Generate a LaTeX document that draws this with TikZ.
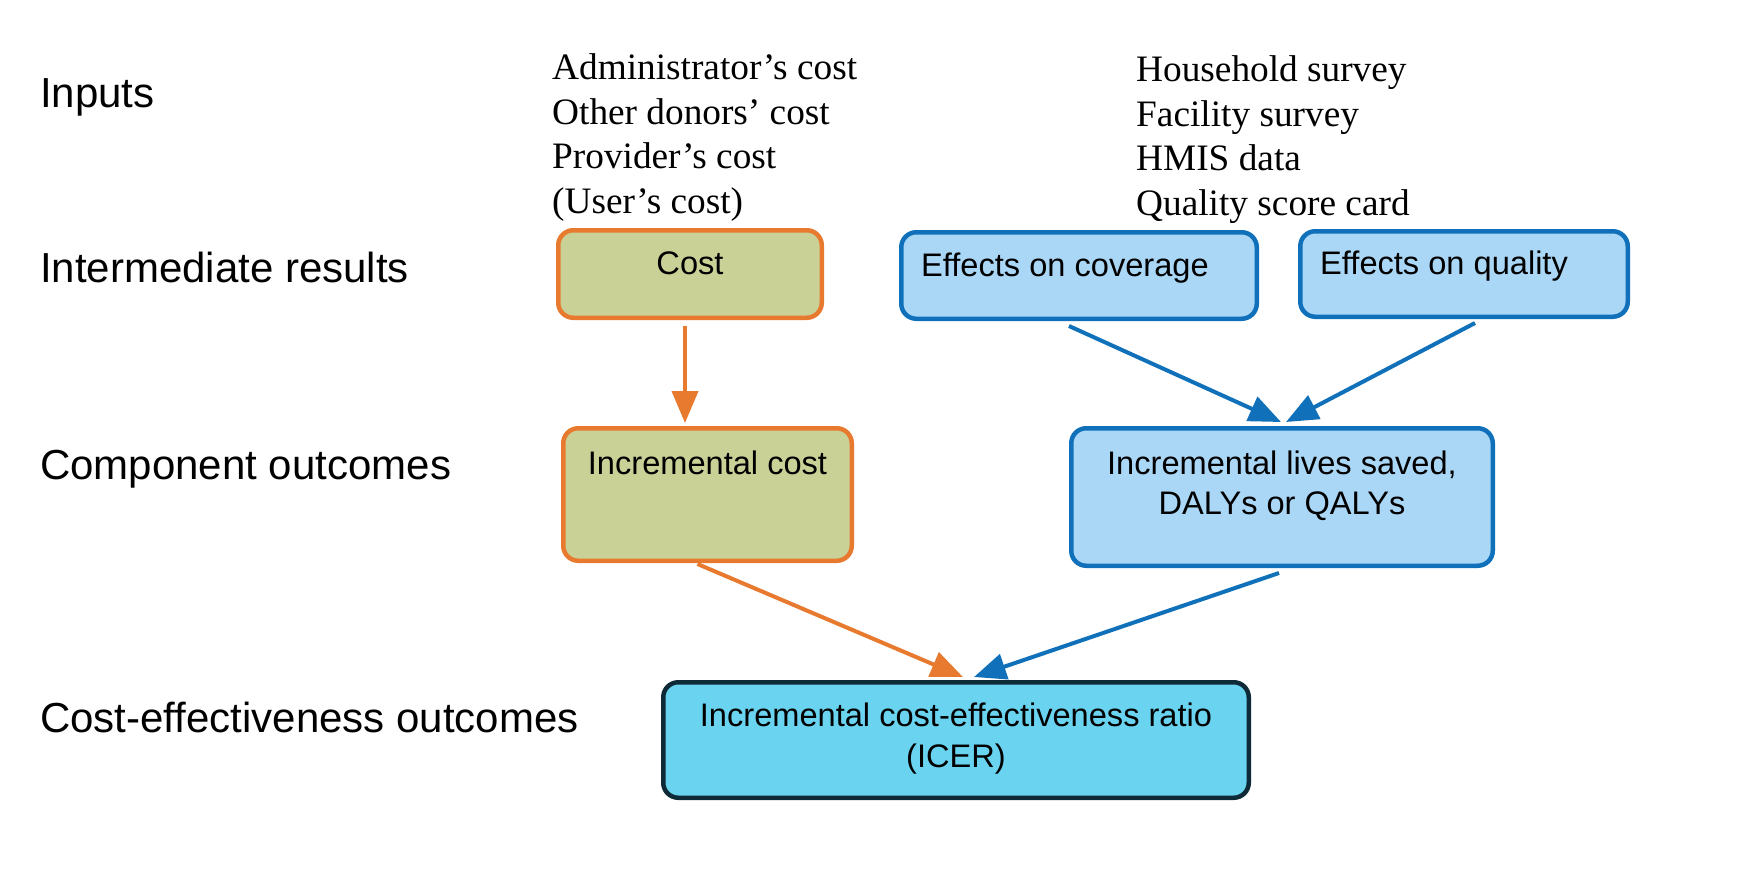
\documentclass[tikz,border=0pt]{standalone}
\usepackage{fontspec}
\setmainfont{Liberation Serif}
\setsansfont{Liberation Sans}
\usetikzlibrary{arrows.meta,calc}
\definecolor{odraw}{RGB}{232,122,48}
\definecolor{ofill}{RGB}{201,209,150}
\definecolor{bdraw}{RGB}{16,113,186}
\definecolor{bfill}{RGB}{171,215,247}
\definecolor{cfill}{RGB}{106,211,240}
\definecolor{cdraw}{RGB}{14,42,56}
\begin{document}
\begin{tikzpicture}[x=1pt,y=-1pt,
  boxbase/.style={rounded corners=15pt, line width=4.5pt, inner sep=0pt},
  obox/.style={boxbase, draw=odraw, fill=ofill},
  bbox/.style={boxbase, draw=bdraw, fill=bfill},
  cbox/.style={boxbase, draw=cdraw, fill=cfill},
  lbl/.style={font=\sffamily\fontsize{42}{50}\selectfont, inner sep=0pt, anchor=base west},
  btxt/.style={font=\sffamily\fontsize{32.6}{40}\selectfont, inner sep=0pt, align=center},
  stxt/.style={font=\rmfamily\fontsize{37.3}{44.6}\selectfont, inner sep=0pt, anchor=base west},
  oarr/.style={draw=odraw, line width=4pt, -{Triangle[length=32pt,width=26pt]}},
  barr/.style={draw=bdraw, line width=4pt, -{Triangle[length=32pt,width=26pt]}}
]
\useasboundingbox (0,0) rectangle (1744,878);

% row labels
\node[lbl] (lin) at (40,107) {Inputs};
\node[lbl] (lir) at (40,282) {Intermediate results};
\node[lbl] (lco) at (40,479) {Component outcomes};
\node[lbl] (lce) at (40,732) {Cost-effectiveness outcomes};

% inputs
\node[stxt] (c1) at (552,79) {Administrator’s cost};
\node[stxt] (c2) at (552,124) {Other donors’ cost};
\node[stxt] (c3) at (552,168) {Provider’s cost};
\node[stxt] (c4) at (552,213) {(User’s cost)};
\node[stxt] (e1) at (1136,81) {Household survey};
\node[stxt] (e2) at (1136,126) {Facility survey};
\node[stxt] (e3) at (1136,170) {HMIS data};
\node[stxt] (e4) at (1136,215) {Quality score card};

% boxes
\node[obox, minimum width=263.5pt, minimum height=87.5pt] (cost) at (690,274) {};
\node[bbox, minimum width=355.5pt, minimum height=86.5pt] (cov) at (1079,275.5) {};
\node[bbox, minimum width=327.5pt, minimum height=85.5pt] (qual) at (1464,274) {};
\node[obox, minimum width=288.5pt, minimum height=132.5pt] (inc) at (707.5,494.5) {};
\node[bbox, minimum width=421.5pt, minimum height=137.5pt] (lives) at (1282,497) {};
\node[cbox, minimum width=585.5pt, minimum height=115.5pt] (icer) at (956,740) {};

% box texts
\node[btxt, anchor=base] (costT) at (690,274) {Cost};
\node[btxt, anchor=base west] (covT) at (921,276) {Effects on coverage};
\node[btxt, anchor=base west] (qualT) at (1320,274) {Effects on quality};
\node[btxt, anchor=base] (incT) at (707.5,474) {Incremental cost};
\node[btxt, anchor=base] (livT1) at (1282,474) {Incremental lives saved,};
\node[btxt, anchor=base] (livT2) at (1282,514) {DALYs or QALYs};
\node[btxt, anchor=base] (icT1) at (956,726) {Incremental cost-effectiveness ratio};
\node[btxt, anchor=base] (icT2) at (956,767) {(ICER)};

% connectors
\draw[oarr] ($(cost.south)+(-5,6)$) -- ($(inc.north)+(-22.5,-3)$);
\draw[barr] ($(cov.south)+(-10,5)$) -- ($(lives.north)+(-1,-4)$);
\draw[barr] ($(qual.south)+(11,4)$) -- ($(lives.north)+(4,-4)$);
\draw[oarr] ($(inc.south)+(-10,1)$) -- ($(icer.north)+(7,-3)$);
\draw[barr] ($(lives.south)+(-3,5)$) -- ($(icer.north)+(18,-3)$);
\end{tikzpicture}
\end{document}
